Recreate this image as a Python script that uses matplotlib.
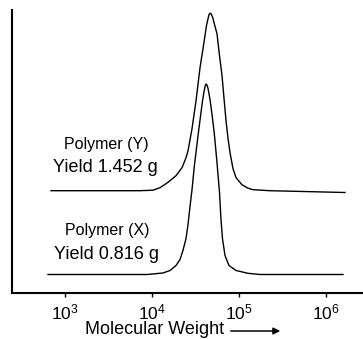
import numpy as np
import matplotlib
matplotlib.use("Agg")
import matplotlib.pyplot as plt

plt.rcParams['font.family'] = ['Liberation Sans', 'DejaVu Sans']
plt.rcParams['mathtext.fontset'] = 'custom'
plt.rcParams['mathtext.rm'] = 'Liberation Sans'
plt.rcParams['mathtext.it'] = 'Liberation Sans:italic'

# GPC traces: log10(molecular weight) and detector signal
logmw_y = [2.839, 3.402, 3.862, 4.011, 4.092, 4.161, 4.207, 4.276, 4.345, 4.391,
           4.414, 4.460, 4.506, 4.552, 4.586, 4.609, 4.626, 4.644, 4.655, 4.667,
           4.678, 4.695, 4.713, 4.747, 4.776, 4.805, 4.828, 4.851, 4.874, 4.897,
           4.931, 4.966, 5.034, 5.103, 5.161, 5.356, 6.218]
signal_y = [0, 0, 0, 0.5, 3, 7, 10, 15, 23, 33,
            40, 62, 90, 123, 142, 155, 165, 172, 176, 177.5,
            177, 174, 168, 157, 135, 115, 92, 70, 52, 38,
            22, 13, 6, 2.5, 1, 0, -1.8]

logmw_x = [2.805, 3.943, 4.126, 4.207, 4.276, 4.322, 4.356, 4.391, 4.414, 4.437,
           4.460, 4.486, 4.532, 4.578, 4.598, 4.611, 4.621, 4.632, 4.644, 4.667,
           4.690, 4.716, 4.747, 4.776, 4.793, 4.810, 4.839, 4.885, 4.966, 5.103,
           5.241, 6.195]
signal_x = [0, 0, 1.5, 4, 9, 15, 24, 36, 50, 68,
            85, 108, 141, 172, 183, 188.5, 190.5, 189.5, 186, 175,
            160, 141, 112, 82, 55, 36, 19, 9, 4, 1.2,
            0, 0]

offset_y = 102.3
offset_x = 18.5

labels = [("Polymer (Y)", "Yield 1.452 g"), ("Polymer (X)", "Yield 0.816 g")]
xticks = [1e3, 1e4, 1e5, 1e6]

W, H = 363, 339
fig = plt.figure(figsize=(W / 100, H / 100), dpi=100)
ax = fig.add_axes([12 / W, 46 / H, 351 / W, 283 / H])

ax.plot(10 ** np.array(logmw_y), np.array(signal_y) + offset_y, color='black', lw=1.0)
ax.plot(10 ** np.array(logmw_x), np.array(signal_x) + offset_x, color='black', lw=1.0)

ax.set_xscale('log')
ax.set_xlim(10 ** (3 - 53 / 87), 10 ** (3 + 298 / 87))
ax.set_ylim(0, 283)
ax.set_xticks(xticks)
ax.xaxis.set_minor_locator(matplotlib.ticker.NullLocator())
ax.set_yticks([])
ax.tick_params(axis='x', direction='out', length=3, width=1, pad=4, labelsize=12.5)
for s in ['top', 'right']:
    ax.spines[s].set_visible(False)
for s in ['left', 'bottom']:
    ax.spines[s].set_linewidth(1.5)

# curve labels
fig.text(106.5 / W, 1 - 149 / H, labels[0][0], ha='center', va='baseline', fontsize=11.5)
fig.text(105 / W, 1 - 171.7 / H, labels[0][1], ha='center', va='baseline', fontsize=13)
fig.text(107 / W, 1 - 234.5 / H, labels[1][0], ha='center', va='baseline', fontsize=11.5)
fig.text(106 / W, 1 - 259 / H, labels[1][1], ha='center', va='baseline', fontsize=13)

# axis title with arrow
fig.text(85 / W, 1 - 334.5 / H, "Molecular Weight", ha='left', va='baseline', fontsize=13)
ax.annotate('', xy=(283 / W, 1 - 331 / H), xytext=(228 / W, 1 - 331 / H),
            xycoords='figure fraction', textcoords='figure fraction',
            arrowprops=dict(arrowstyle='-|>', lw=1.1, color='black', mutation_scale=10))

fig.savefig('out.png', dpi=100)
